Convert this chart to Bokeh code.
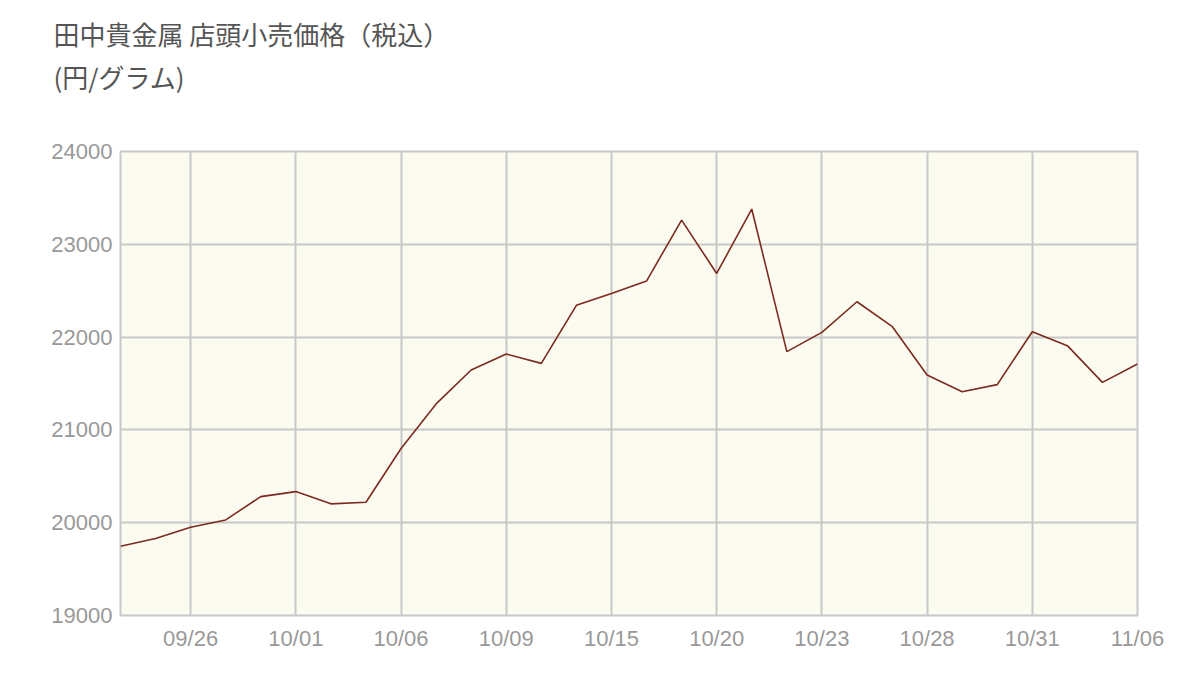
from bokeh.plotting import figure
from bokeh.models import Range1d, FixedTicker, Title
from bokeh.embed import file_html
from bokeh.resources import INLINE

dates = ["09/24", "09/25", "09/26", "09/29", "09/30", "10/01", "10/02", "10/03",
         "10/06", "10/07", "10/08", "10/09", "10/10", "10/14", "10/15", "10/16",
         "10/17", "10/20", "10/21", "10/22", "10/23", "10/24", "10/27", "10/28",
         "10/29", "10/30", "10/31", "11/04", "11/05", "11/06"]
prices = [19746, 19829, 19951, 20030, 20281, 20335, 20203, 20220,
          20800, 21280, 21646, 21818, 21717, 22342, 22471, 22604,
          23261, 22686, 23380, 21843, 22051, 22381, 22116, 21592,
          21412, 21488, 22058, 21908, 21512, 21710]
tick_labels = ["09/26", "10/01", "10/06", "10/09", "10/15", "10/20",
               "10/23", "10/28", "10/31", "11/06"]
y_ticks = [19000, 20000, 21000, 22000, 23000, 24000]
title_line1 = "田中貴金属 店頭小売価格（税込）"
title_line2 = "(円/グラム)"

xs = list(range(len(dates)))
tick_pos = [dates.index(t) for t in tick_labels]

p = figure(width=1190, height=680, output_backend="svg", toolbar_location=None,
           x_range=Range1d(0, len(dates) - 1), y_range=Range1d(19000, 24000),
           min_border_left=120, min_border_right=53, min_border_top=151,
           min_border_bottom=65)

p.background_fill_color = "#fcfbf0"
p.border_fill_color = "white"
p.outline_line_color = "#c8c8c8"
p.outline_line_width = 2

p.xaxis.ticker = FixedTicker(ticks=tick_pos)
p.xaxis.major_label_overrides = {i: d for i, d in zip(tick_pos, tick_labels)}
p.yaxis.ticker = FixedTicker(ticks=y_ticks)

for ax in (p.xaxis[0], p.yaxis[0]):
    ax.axis_line_color = None
    ax.major_tick_line_color = None
    ax.minor_tick_line_color = None
    ax.major_label_text_color = "#999999"
    ax.major_label_text_font = "Liberation Sans"
    ax.major_label_text_font_size = "22px"
p.xaxis.major_label_standoff = 4
p.yaxis.major_label_standoff = 2

p.xgrid.ticker = FixedTicker(ticks=tick_pos)
p.ygrid.ticker = FixedTicker(ticks=y_ticks)
for g in (p.xgrid[0], p.ygrid[0]):
    g.grid_line_color = "#c8c8c8"
    g.grid_line_width = 2

p.line(xs, prices, line_color="#7b2a20", line_width=1.6)

# spacer between the frame and the subtitle
p.add_layout(Title(text=" ", text_font_size="1px", standoff=54), "above")
p.add_layout(Title(text=title_line2, align="left", offset=-67, standoff=0,
                   text_font="Noto Sans CJK JP", text_font_size="26px",
                   text_font_style="normal", text_color="#555555"), "above")
p.add_layout(Title(text=title_line1, align="left", offset=-67, standoff=8,
                   text_font="Noto Sans CJK JP", text_font_size="26px",
                   text_font_style="normal", text_color="#555555"), "above")

open("out.html", "w").write(file_html(p, INLINE))
